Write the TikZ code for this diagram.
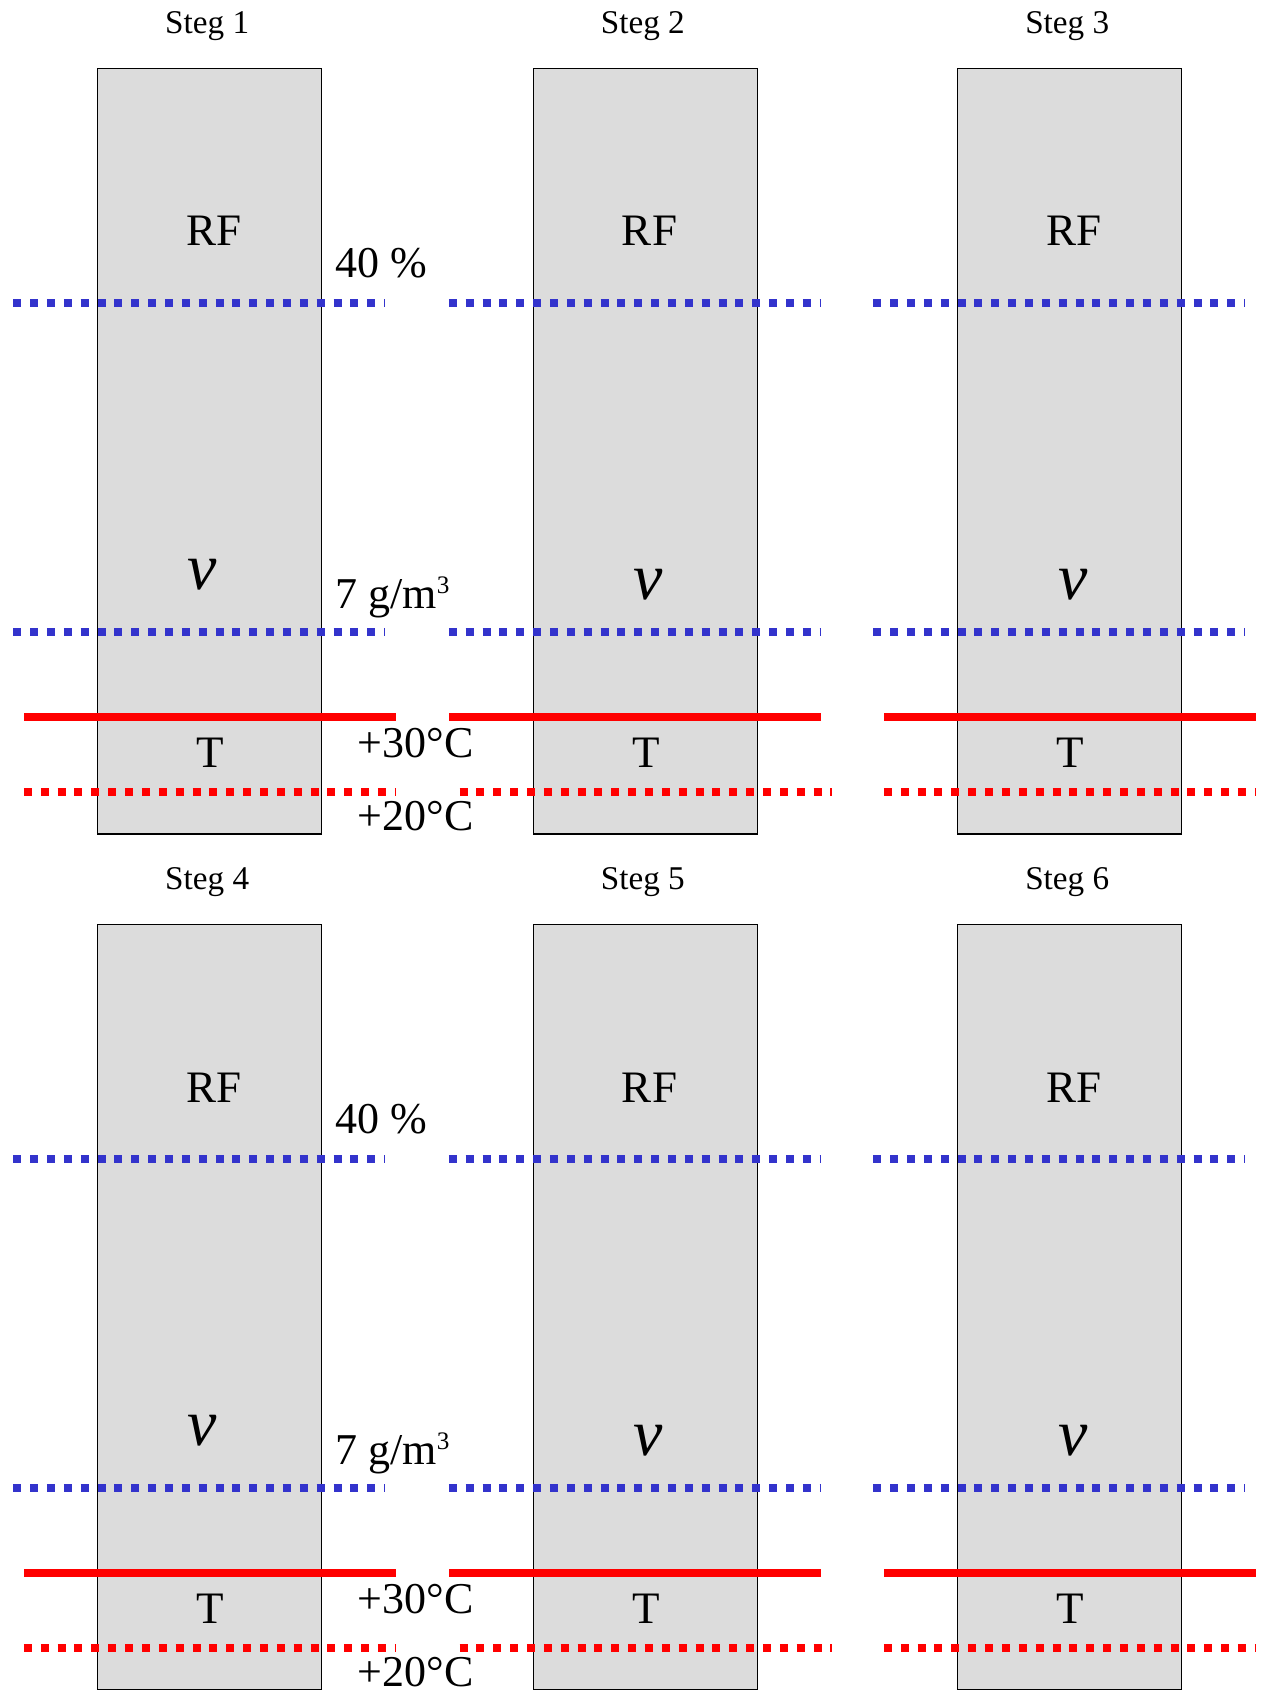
\documentclass[tikz,border=0pt]{standalone}
\usepackage{fontspec}
\setmainfont{Liberation Serif}
\definecolor{humblue}{HTML}{3333CC}
\definecolor{boxgray}{HTML}{DCDCDC}
\tikzset{
  stegbox/.style={draw=black, fill=boxgray, line width=0.75pt, inner sep=0pt,
    outer sep=0pt, minimum width=112pt, minimum height=382.65pt, anchor=north west},
  rhline/.style={draw=humblue, line width=3.9pt, dash pattern=on 4pt off 4.43pt},
  tline/.style={draw=red, line width=4.1pt},
  tdotline/.style={draw=red, line width=3.9pt, dash pattern=on 4pt off 4.43pt},
  steptitle/.style={anchor=base, inner sep=0pt, font=\fontsize{16.6}{16.6}\selectfont},
  quantity/.style={anchor=base, inner sep=0pt, font=\fontsize{22.5}{22.5}\selectfont},
  vapour/.style={anchor=base, inner sep=0pt, font=\fontsize{33}{33}\selectfont\itshape},
  valuelabel/.style={anchor=base west, inner sep=0pt, font=\fontsize{22}{22}\selectfont},
}
% #1 step number, #2 row offset, #3 left edge of the column,
% #4 left end of the solid temperature line, #5/#6 position of the v label
\newcommand\stegpanel[6]{%
  \node[stegbox] (box#1) at (#3, 68.7+#2) {};
  \draw[rhline] (#3-84.5, 302.7+#2) -- ++(372,0);
  \draw[rhline] (#3-84.5, 632+#2) -- ++(372,0);
  \draw[tline] (#4, 717.3+#2) -- ++(372,0);
  \draw[tdotline] (#3-73.8, 792+#2) -- ++(372,0);
  \node[steptitle] (title#1) at (#3+109.5, 33.3+#2) {Steg #1};
  \node[quantity] (rf#1) at (#3+116.2, 246+#2) {RF};
  \node[vapour] (v#1) at (#5, #6+#2) {v};
  \node[quantity] (t#1) at (#3+112.7, 767.5+#2) {T};
}
\begin{document}
\begin{tikzpicture}[x=0.5pt, y=-0.5pt]
\useasboundingbox (0,0) rectangle (1262,1690);
\stegpanel{1}{0}{97.7}{24}{201.7}{589}
\stegpanel{2}{0}{533.3}{449}{648.3}{599.5}
\stegpanel{3}{0}{957.7}{884}{1073}{599.5}
\stegpanel{4}{856}{97.7}{24}{201.7}{589}
\stegpanel{5}{856}{533.3}{449}{648.3}{599.5}
\stegpanel{6}{856}{957.7}{884}{1073}{599.5}
% reference values beside the first column of each row
\foreach \r/\dy in {a/0, b/856} {
  \node[valuelabel] (rh\r) at (335, 277.7+\dy) {40 \%};
  \node[valuelabel] (abs\r) at (335, 608.3+\dy)
    {7 g/m\raisebox{7.5pt}{\fontsize{12.6}{12.6}\selectfont 3}};
  \node[valuelabel] (hot\r) at (357.3, 757.3+\dy) {+30°C};
  \node[valuelabel] (cold\r) at (357.3, 830.7+\dy) {+20°C};
}
\end{tikzpicture}
\end{document}
